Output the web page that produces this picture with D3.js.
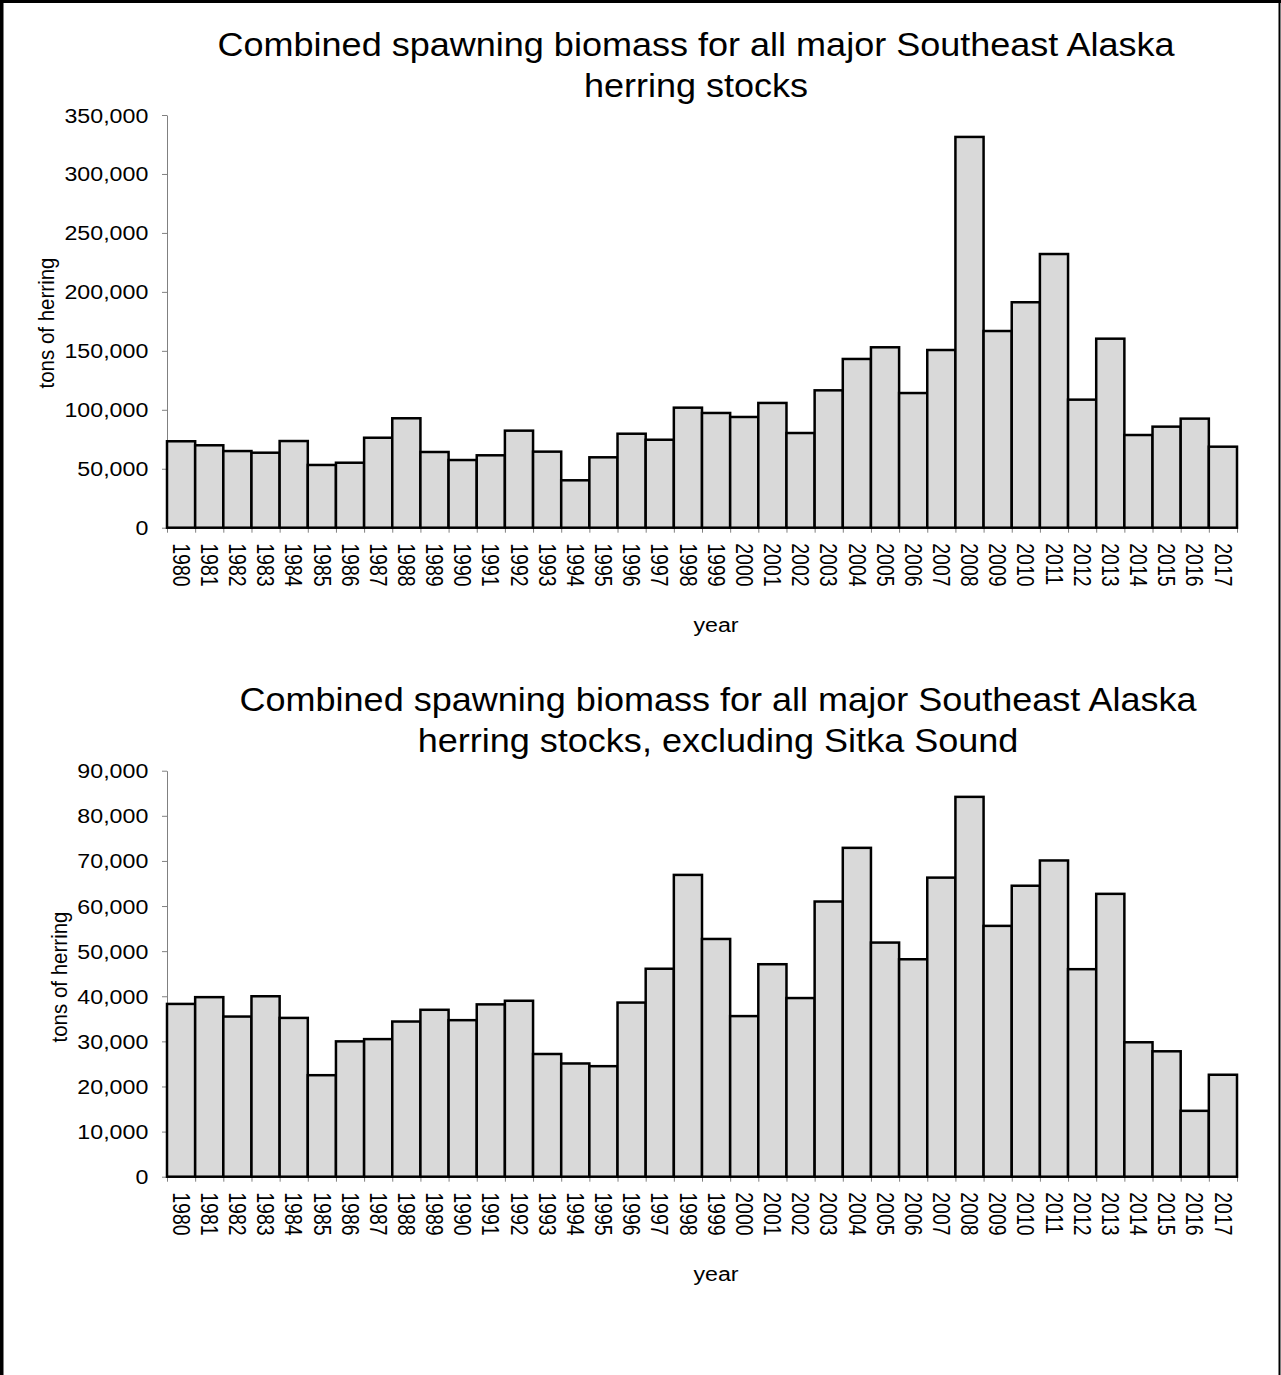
<!DOCTYPE html>
<html>
<head>
<meta charset="utf-8">
<script src="https://cdn.jsdelivr.net/npm/d3@7"></script>
<style>
  html, body { margin: 0; padding: 0; background: #fff; }
  svg { display: block; }
  text { font-family: "Liberation Sans", Arial, Helvetica, sans-serif; fill: #000; }
</style>
</head>
<body>
<svg id="chart" width="1281" height="1375"></svg>
<script>
// Southeast Alaska herring spawning biomass, tons per year
const years = [
  "1980","1981","1982","1983","1984","1985","1986","1987","1988","1989",
  "1990","1991","1992","1993","1994","1995","1996","1997","1998","1999",
  "2000","2001","2002","2003","2004","2005","2006","2007","2008","2009",
  "2010","2011","2012","2013","2014","2015","2016","2017"
];

// all major stocks combined
const allStocks = [
  73300, 69900, 65000, 63600, 73500, 53200, 55100, 76300, 92800, 64200,
  57400, 61400, 82300, 64500, 40200, 59700, 79700, 74600, 101800, 97300,
  93900, 105800, 80300, 116500, 143100, 153000, 114200, 150700, 331400, 166800,
  191200, 232100, 108600, 160300, 78600, 85700, 92500, 68700
];

// all major stocks except Sitka Sound
const excludingSitka = [
  38300, 39800, 35500, 40000, 35200, 22500, 30000, 30500, 34400, 37000,
  34700, 38200, 39000, 27200, 25100, 24500, 38600, 46100, 66900, 52700,
  35600, 47100, 39600, 61000, 72900, 51900, 48200, 66300, 84200, 55600,
  64500, 70100, 46000, 62700, 29800, 27800, 14600, 22600
];

const allStocksTicks = [0, 50000, 100000, 150000, 200000, 250000, 300000, 350000];
const excludingSitkaTicks = [0, 10000, 20000, 30000, 40000, 50000, 60000, 70000, 80000, 90000];

const topTitle = ["Combined spawning biomass for all major Southeast Alaska", "herring stocks"];
const bottomTitle = ["Combined spawning biomass for all major Southeast Alaska", "herring stocks, excluding Sitka Sound"];
const yTitle = "tons of herring";
const xTitle = "year";

// ---- drawing ----
const svg = d3.select("#chart");
const plotLeft = 167, plotRight = 1237;
const labelSize = 19.5;   // axis text size
const stretch = 1.19;     // horizontal widening of the text glyphs
const axisGrey = "#808080";

const xBand = d3.scaleBand().domain(years).range([plotLeft, plotRight]).padding(0);
const xEdges = d3.scaleLinear().domain([0, years.length]).range([plotLeft, plotRight]);

function drawPanel(cfg) {
  const g = svg.append("g");
  const y = d3.scaleLinear().domain([0, cfg.max]).range([cfg.bottom, cfg.top]);

  // x axis: short grey ticks on the category boundaries
  const xTicks = g.append("g")
    .attr("transform", `translate(0,${cfg.bottom})`)
    .call(d3.axisBottom(xEdges)
      .tickValues(d3.range(years.length + 1))
      .tickFormat("")
      .tickSize(5)
      .tickSizeOuter(0));
  xTicks.selectAll("path, line").attr("stroke", axisGrey).attr("stroke-width", 1);

  // y axis
  const yAxis = g.append("g")
    .attr("transform", `translate(${plotLeft},0)`)
    .call(d3.axisLeft(y)
      .tickValues(cfg.ticks)
      .tickFormat(d3.format(","))
      .tickSize(5)
      .tickSizeOuter(0));
  yAxis.selectAll("path, line").attr("stroke", axisGrey).attr("stroke-width", 1);
  yAxis.selectAll("text")
    .attr("font-size", labelSize)
    .attr("x", -18.7 / stretch)
    .attr("dy", "0.36em")
    .attr("transform", `scale(${stretch},1)`);

  // bars
  g.append("g").selectAll("rect")
    .data(years.map((yr, i) => ({ yr, v: cfg.values[i] })))
    .join("rect")
    .attr("x", d => xBand(d.yr))
    .attr("width", xBand.bandwidth())
    .attr("y", d => y(d.v))
    .attr("height", d => y(0) - y(d.v))
    .attr("fill", "#d9d9d9")
    .attr("stroke", "#000")
    .attr("stroke-width", 2.5);

  // year labels, rotated to read downward
  const xLabels = g.append("g")
    .attr("transform", `translate(0,${cfg.bottom})`)
    .call(d3.axisBottom(xBand).tickSize(0));
  xLabels.select(".domain").remove();
  xLabels.selectAll("text")
    .attr("font-size", labelSize)
    .attr("x", 0)
    .attr("y", 0)
    .attr("dy", "0.36em")
    .attr("text-anchor", "start")
    .attr("transform", `translate(0,15.5) rotate(90) scale(1,${stretch})`);

  // y axis title
  g.append("text")
    .attr("font-size", 20.5)
    .attr("text-anchor", "middle")
    .attr("dy", "0.25em")
    .attr("transform", `translate(${cfg.yTitleX},${cfg.yTitleY}) rotate(-90) scale(1,1.08)`)
    .text(yTitle);

  // x axis title
  g.append("text")
    .attr("font-size", labelSize)
    .attr("text-anchor", "middle")
    .attr("transform", `translate(${cfg.xTitleX},${cfg.xTitleY}) scale(${stretch},1)`)
    .text(xTitle);

  // chart title
  cfg.title.forEach((line, i) => {
    g.append("text")
      .attr("font-size", 34)
      .attr("text-anchor", "middle")
      .attr("transform", `translate(${cfg.titleX},${cfg.titleY[i]}) scale(1.06,1)`)
      .text(line);
  });
}

drawPanel({
  values: allStocks, ticks: allStocksTicks, max: 350000,
  top: 115, bottom: 527.7,
  title: topTitle, titleX: 696, titleY: [56, 97],
  yTitleX: 48, yTitleY: 323,
  xTitleX: 716, xTitleY: 632
});

drawPanel({
  values: excludingSitka, ticks: excludingSitkaTicks, max: 90000,
  top: 770.7, bottom: 1176.7,
  title: bottomTitle, titleX: 718, titleY: [711, 752],
  yTitleX: 61, yTitleY: 977,
  xTitleX: 716, xTitleY: 1281
});

// page frame
const frame = svg.append("g").attr("fill", "none").attr("stroke", "#000");
frame.append("line").attr("x1", 0).attr("x2", 1281).attr("y1", 1.5).attr("y2", 1.5).attr("stroke-width", 3);
frame.append("line").attr("x1", 1.75).attr("x2", 1.75).attr("y1", 0).attr("y2", 1375).attr("stroke-width", 3.5);
frame.append("line").attr("x1", 1279.5).attr("x2", 1279.5).attr("y1", 0).attr("y2", 1375).attr("stroke-width", 2);
</script>
</body>
</html>
